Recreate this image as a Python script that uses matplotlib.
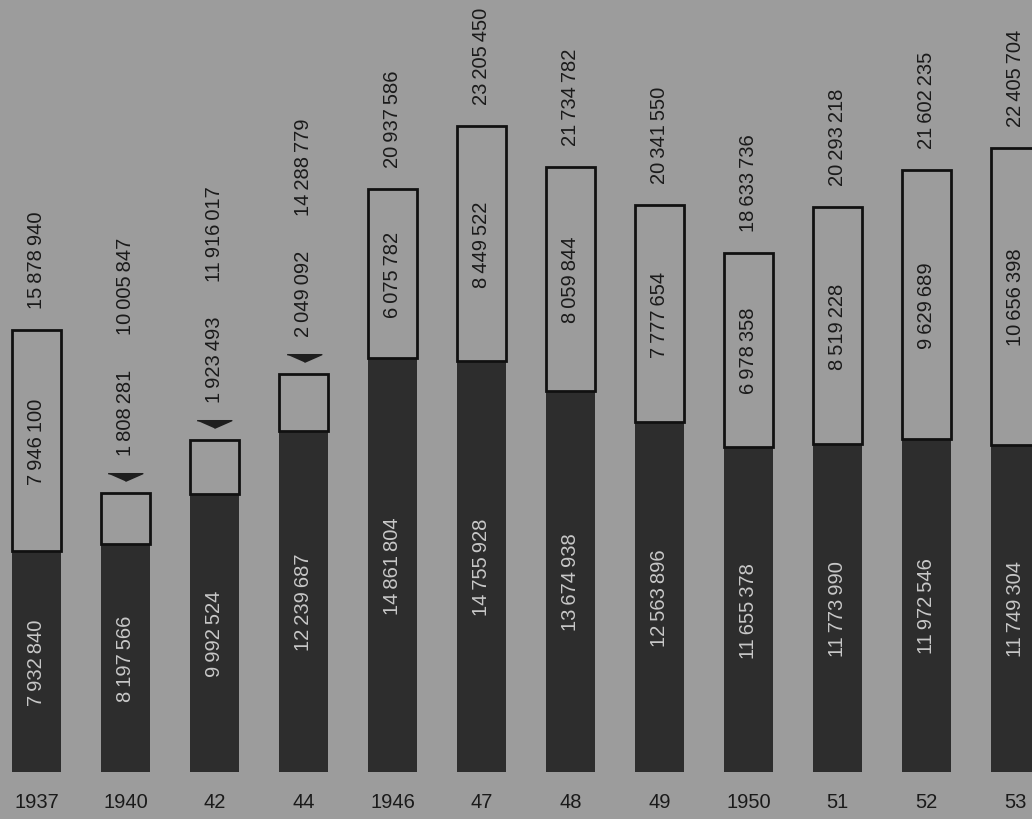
import matplotlib
matplotlib.use('Agg')
import matplotlib.pyplot as plt
from matplotlib.transforms import ScaledTranslation

plt.rcParams['font.family'] = ['Liberation Sans', 'DejaVu Sans']

years = ['1937', '1940', '42', '44', '1946', '47', '48', '49', '1950', '51', '52', '53']
dark = [7932840, 8197566, 9992524, 12239687, 14861804, 14755928,
        13674938, 12563896, 11655378, 11773990, 11972546, 11749304]
light = [7946100, 1808281, 1923493, 2049092, 6075782, 8449522,
         8059844, 7777654, 6978358, 8519228, 9629689, 10656398]
totals = [15878940, 10005847, 11916017, 14288779, 20937586, 23205450,
          21734782, 20341550, 18633736, 20293218, 21602235, 22405704]

BG = '#9c9c9c'
DARK = '#2d2d2d'


def fmt(n):
    # groups of three with a thin space
    return f"{n:,}".replace(',', '\u2009')


def draw():
    fig = plt.figure(figsize=(10.32, 8.2), dpi=100, facecolor=BG)
    ax = fig.add_axes([0, 0, 1, 1])
    ax.set_facecolor(BG)
    ax.set_xlim(-0.41, 11.185)
    ax.set_ylim(-1.688e6, 27.756e6)
    ax.axis('off')

    x = list(range(len(years)))
    w = 0.55
    ax.bar(x, dark, width=w, color=DARK, edgecolor=DARK, linewidth=0)
    ax.bar(x, light, width=w, bottom=dark, color=BG, edgecolor='#111111',
           linewidth=2, zorder=3)

    fs = 14.5
    up = ScaledTranslation(0, 16 / 100, fig.dpi_scale_trans)
    for i in x:
        top = totals[i]
        # dark part value, light text, centred
        ax.text(i, dark[i] / 2, fmt(dark[i]), rotation=90, ha='center',
                va='center', color='#c8c8c8', fontsize=fs, zorder=4)
        # year below
        ax.annotate(years[i], xy=(i, 0), xytext=(0, -30), textcoords='offset pixels',
                    ha='center', va='center', fontsize=fs, color='#1a1a1a')
        if light[i] > 3000000:
            ax.text(i, dark[i] + light[i] / 2, fmt(light[i]), rotation=90,
                    ha='center', va='center', color='#1a1a1a', fontsize=fs, zorder=4)
            ax.annotate(fmt(top), xy=(i, top), xytext=(0, 22), textcoords='offset pixels',
                        rotation=90, ha='center', va='bottom', fontsize=fs,
                        color='#1a1a1a')
        else:
            # small part: arrow + label above the bar
            ax.plot([i], [top], linestyle='none', color='#1e1e1e', markersize=25,
                    marker=[(-1, 0.22), (1, 0.22), (0, -0.22)],
                    transform=ax.transData + up)
            lab = ax.annotate(fmt(light[i]), xy=(i, top), xytext=(0, 38),
                              textcoords='offset pixels', rotation=90, ha='center',
                              va='bottom', fontsize=fs, color='#1a1a1a')
            ax.annotate(fmt(top), xy=(0.5, 1), xycoords=lab, xytext=(0, 35),
                        textcoords='offset pixels', rotation=90, ha='center',
                        va='bottom', fontsize=fs, color='#1a1a1a')

    fig.savefig('out.png', dpi=100, facecolor=BG)


if __name__ == '__main__':
    draw()
